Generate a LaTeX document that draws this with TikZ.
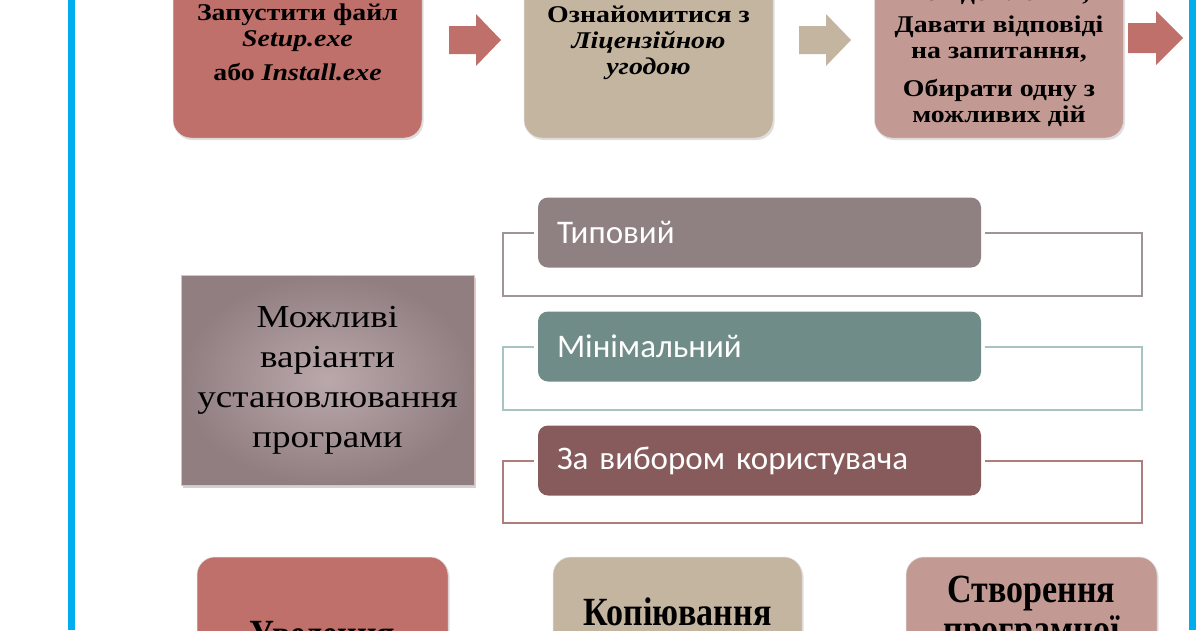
\documentclass[tikz,border=0pt]{standalone}
\usepackage{fontspec}
\setmainfont{Liberation Serif}
\newfontfamily\optfont[WordSpace=0.5]{Carlito}
\newfontfamily\condfont[FakeStretch=0.85]{Liberation Serif}
\newfontfamily\wideserif[FakeStretch=1.16]{Liberation Serif}
\usetikzlibrary{shadows}
\definecolor{cBlue}{RGB}{0,174,239}
\definecolor{cRed}{RGB}{192,112,106}
\definecolor{cBeige}{RGB}{196,181,160}
\definecolor{cPink}{RGB}{194,154,147}
\definecolor{cTyp}{RGB}{143,129,129}
\definecolor{cMin}{RGB}{111,140,136}
\definecolor{cUsr}{RGB}{135,91,91}
\definecolor{cBigIn}{RGB}{186,168,170}
\definecolor{cBigOut}{RGB}{145,126,128}
\definecolor{cBr1}{RGB}{160,148,148}
\definecolor{cBr2}{RGB}{168,196,194}
\definecolor{cBr3}{RGB}{176,124,124}
\begin{document}
\begin{tikzpicture}[x=1pt,y=-1pt,
  stepbox/.style={rounded corners=18pt, inner sep=0pt, minimum width=249pt,
    draw=black!12, line width=0.5pt,
    drop shadow={shadow xshift=1.5pt, shadow yshift=-2pt, opacity=0.25}},
  toptxt/.style={align=center, inner sep=0pt, font=\wideserif\fontsize{24}{26}\selectfont\bfseries},
  bigbox/.style={minimum width=293pt, minimum height=210pt, inner sep=0pt,
    inner color=cBigIn, outer color=cBigOut, draw=cPink!60, line width=1pt,
    drop shadow={shadow xshift=2pt, shadow yshift=-3pt, opacity=0.35},
    align=center, font=\wideserif\fontsize{32}{40}\selectfont},
  optbox/.style={rounded corners=10pt, minimum height=70pt, text width=405pt,
    inner xsep=19pt, inner ysep=0pt, align=left, text=white,
    font=\fontsize{33}{33}\optfont},
  brk/.style={line width=2pt},
  bottxt/.style={align=center, inner sep=0pt, font=\condfont\bfseries\fontsize{40}{40}\selectfont}
]
\useasboundingbox (0,0) rectangle (1200,630);
\clip (0,0) rectangle (1200,630);
\fill[white] (0,0) rectangle (1200,630);
\fill[cBlue] (68,0) rectangle (75,630);
\fill[cBlue] (1189,0) rectangle (1196,630);

% top row
\node[stepbox, fill=cRed, minimum height=178pt] (b1) at (297.5,49) {};
\node[stepbox, fill=cBeige, minimum height=178pt] (b2) at (648.5,49) {};
\node[stepbox, fill=cPink, minimum height=178pt] (b3) at (999,49) {};

% block arrows between the steps
\coordinate (a1) at (449,40);
\coordinate (a2) at (799,40);
\coordinate (a3) at (1128,38);
\fill[cRed] (a1) ++(0,-14) -- ++(27,0) -- ++(0,-12) -- ++(25,26) -- ++(-25,26) -- ++(0,-12) -- ++(-27,0) -- cycle;
\fill[cBeige] (a2) ++(0,-14) -- ++(27,0) -- ++(0,-12) -- ++(25,26) -- ++(-25,26) -- ++(0,-12) -- ++(-27,0) -- cycle;
\fill[cRed] (a3) ++(0,-15) -- ++(28,0) -- ++(0,-12) -- ++(27,27) -- ++(-27,27) -- ++(0,-12) -- ++(-28,0) -- cycle;

\node[toptxt] (t1) at (297.5,42) {Запустити файл\\\textit{Setup.exe}\\[8pt]або \textit{Install.exe}};
\node[toptxt] (t2) at (648.5,43) {Ознайомитися з\\\textit{Ліцензійною}\\\textit{угодою}};
\node[toptxt] (t3) at (999,55) {повідомлення,\\[6pt]Давати відповіді\\на запитання,\\[12pt]Обирати одну з\\можливих дій};

% middle
\node[bigbox] (bb) at (327.5,380) {Можливі\\варіанти\\установлювання\\програми};

\node[optbox, fill=cTyp] (o1) at (759.5,232.5) {Типовий};
\node[optbox, fill=cMin] (o2) at (759.5,346.5) {Мінімальний};
\node[optbox, fill=cUsr] (o3) at (759.5,460.5) {За вибором користувача};

\draw[brk, draw=cBr1] ([xshift=4pt]o1.east) -- (1142,232.5) |- (503,296) -- (503,232.5) -- ([xshift=-4pt]o1.west);
\draw[brk, draw=cBr2] ([xshift=4pt]o2.east) -- (1142,346.5) |- (503,410) -- (503,346.5) -- ([xshift=-4pt]o2.west);
\draw[brk, draw=cBr3] ([xshift=4pt]o3.east) -- (1142,460.5) |- (503,523) -- (503,460.5) -- ([xshift=-4pt]o3.west);

% bottom row
\node[stepbox, fill=cRed, minimum width=251pt, minimum height=200pt] (b4) at (322.5,657) {};
\node[stepbox, fill=cBeige, minimum width=249pt, minimum height=200pt] (b5) at (677.5,657) {};
\node[stepbox, fill=cPink, minimum width=251pt, minimum height=200pt] (b6) at (1031.5,657) {};

\node[bottxt] (t4) at (322.5,638) {Уведення};
\node[bottxt] (t5) at (677.5,612) {Копіювання};
\node[bottxt] (t6) at (1031.5,614) {Створення\\програмної};
\end{tikzpicture}
\end{document}
